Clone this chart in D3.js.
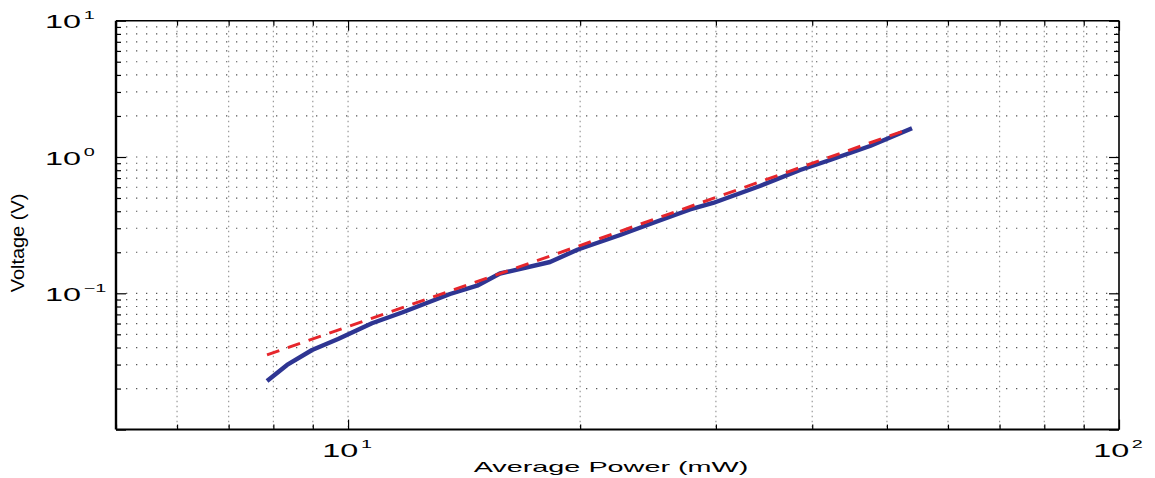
<!DOCTYPE html>
<html>
<head>
<meta charset="utf-8">
<script src="https://cdn.jsdelivr.net/npm/d3@7"></script>
<style>
  html, body { margin: 0; padding: 0; background: #fff; }
  svg { display: block; }
  text { font-family: "Liberation Sans", Arial, sans-serif; fill: #000; }
</style>
</head>
<body>
<svg id="chart" width="1155" height="478"></svg>
<script>
// Measured response: average power (mW) vs output voltage (V)
const measuredPower   = [7.85, 8.334, 8.981, 9.706, 10.74, 11.75, 13.56, 14.70, 15.74, 18.28, 19.87, 22.54, 24.64, 27.77, 29.75, 34.22, 38.58, 42.19, 47.54, 53.89];
const measuredVoltage = [0.02273, 0.02979, 0.03837, 0.04622, 0.06024, 0.07228, 0.09883, 0.1137, 0.1397, 0.1697, 0.2096, 0.2678, 0.3224, 0.4120, 0.4598, 0.6126, 0.8028, 0.9506, 1.204, 1.624];

// Power-law fit (straight on log-log axes)
const fitPower   = [7.85, 19.9, 53.0];
const fitVoltage = [0.0353, 0.222, 1.58];

// Axis decades and tick labels
const xDomain = [5, 100];
const yDomain = [0.01, 10];
const xMajorTicks = [10, 100];
const xMajorLabels = [["10", "1"], ["10", "2"]];
const yMajorTicks = [10, 1, 0.1];
const yMajorLabels = [["10", "1"], ["10", "0"], ["10", "\u22121"]];

const xTitle = "Average Power  (mW)";
const yTitle = "Voltage (V)";

const svg = d3.select("#chart");
const L = 116, R = 1119, T = 20.7, B = 429.6;

const x = d3.scaleLog().domain(xDomain).range([L, R]);
const y = d3.scaleLog().domain(yDomain).range([B, T]);

// all decade subdivisions (1..9 x 10^k) inside the domains
function logSteps(lo, hi) {
  const out = [];
  for (let e = Math.floor(Math.log10(lo)); e <= Math.ceil(Math.log10(hi)); e++) {
    for (let m = 1; m <= 9; m++) {
      const v = m * Math.pow(10, e);
      if (v >= lo * 0.9999 && v <= hi * 1.0001) out.push(v);
    }
  }
  return out;
}
const xAll = logSteps(xDomain[0], xDomain[1]);
const yAll = logSteps(yDomain[0], yDomain[1]);
const isMajor = v => Math.abs(Math.log10(v) - Math.round(Math.log10(v))) < 1e-9;

// dotted grid
const grid = svg.append("g");
grid.selectAll("line.hg").data(yAll.filter(v => v > yDomain[0] && v < yDomain[1]))
  .join("line").attr("class", "hg")
  .attr("x1", L).attr("x2", R)
  .attr("y1", d => y(d)).attr("y2", d => y(d))
  .attr("stroke", "#555").attr("stroke-width", 1.2)
  .attr("stroke-dasharray", "1.3 8.7");
grid.selectAll("line.vg").data(xAll.filter(v => v > xDomain[0] && v < xDomain[1]))
  .join("line").attr("class", "vg")
  .attr("y1", T).attr("y2", B)
  .attr("x1", d => x(d)).attr("x2", d => x(d))
  .attr("stroke", "#999").attr("stroke-width", 1.2)
  .attr("stroke-dasharray", "1.5 3.5");

// data lines
const line = d3.line().x(d => x(d[0])).y(d => y(d[1]));
svg.append("path")
  .datum(measuredPower.map((p, i) => [p, measuredVoltage[i]]))
  .attr("d", line).attr("fill", "none")
  .attr("stroke", "#2e3592").attr("stroke-width", 4.4)
  .attr("stroke-linejoin", "round");
svg.append("path")
  .datum(fitPower.map((p, i) => [p, fitVoltage[i]]))
  .attr("d", line).attr("fill", "none")
  .attr("stroke", "#e6262c").attr("stroke-width", 3)
  .attr("stroke-dasharray", "13 9");

// axes with inward ticks on all four sides
const tickLen = v => isMajor(v) ? 10 : 5;
const styleTicks = (g, attr, sign) => g
  .call(s => s.select(".domain").remove())
  .call(s => s.selectAll(".tick line").attr(attr, d => sign * tickLen(d))
    .attr("stroke", "#000").attr("stroke-width", 1.2));
svg.append("g").attr("transform", `translate(${L},0)`)
  .call(d3.axisLeft(y).tickValues(yAll).tickSize(0).tickFormat(""))
  .call(g => styleTicks(g, "x2", 1));
svg.append("g").attr("transform", `translate(${R},0)`)
  .call(d3.axisRight(y).tickValues(yAll).tickSize(0).tickFormat(""))
  .call(g => styleTicks(g, "x2", -1));
svg.append("g").attr("transform", `translate(0,${B})`)
  .call(d3.axisBottom(x).tickValues(xAll).tickSize(0).tickFormat(""))
  .call(g => styleTicks(g, "y2", -1));
svg.append("g").attr("transform", `translate(0,${T})`)
  .call(d3.axisTop(x).tickValues(xAll).tickSize(0).tickFormat(""))
  .call(g => styleTicks(g, "y2", 1));

// frame
svg.append("line").attr("x1", L).attr("x2", L).attr("y1", T).attr("y2", B).attr("stroke", "#000").attr("stroke-width", 2.4);
svg.append("line").attr("x1", R).attr("x2", R).attr("y1", T).attr("y2", B).attr("stroke", "#000").attr("stroke-width", 1.6);
svg.append("line").attr("x1", L).attr("x2", R).attr("y1", B).attr("y2", B).attr("stroke", "#000").attr("stroke-width", 2);
svg.append("line").attr("x1", L).attr("x2", R).attr("y1", T).attr("y2", T).attr("stroke", "#000").attr("stroke-width", 1.6);

// power-of-ten labels, stretched horizontally like the rest of the figure
const SX = 1.8;
function powerLabel(g, base, exp, anchor) {
  const t = g.append("text").attr("text-anchor", anchor)
    .attr("transform", `scale(${SX},1)`)
    .style("font-size", "18px");
  t.append("tspan").text(base);
  t.append("tspan").attr("dx", "1.5").attr("dy", "-9").style("font-size", "11px").text(exp);
  return t;
}
yMajorTicks.forEach((v, i) => {
  const g = svg.append("g").attr("transform", `translate(45,${y(v) + 7.5})`);
  powerLabel(g, yMajorLabels[i][0], yMajorLabels[i][1], "start");
});
xMajorTicks.forEach((v, i) => {
  const g = svg.append("g").attr("transform", `translate(${x(v) - 1},${B + 27.5})`);
  powerLabel(g, xMajorLabels[i][0], xMajorLabels[i][1], "middle");
});

// axis titles
svg.append("g").attr("transform", `translate(611,472)`)
  .append("text").attr("text-anchor", "middle")
  .attr("transform", "scale(1.92,1)")
  .style("font-size", "15px").text(xTitle);
svg.append("g").attr("transform", `translate(24,243) rotate(-90)`)
  .append("text").attr("text-anchor", "middle")
  .attr("transform", "scale(1.05,1)")
  .style("font-size", "19px").text(yTitle);
</script>
</body>
</html>
